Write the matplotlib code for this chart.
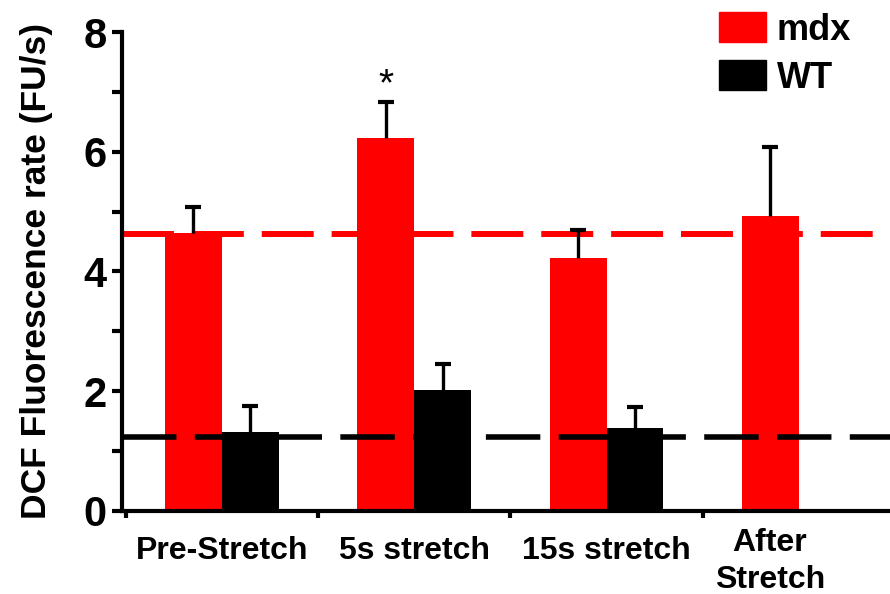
import matplotlib
matplotlib.use('Agg')
import matplotlib.pyplot as plt
from matplotlib.patches import Patch
import numpy as np

plt.rcParams['font.family'] = ['Liberation Sans', 'DejaVu Sans']

# data
groups = ['Pre-Stretch', '5s stretch', '15s stretch', 'After\nStretch']
mdx = [4.65, 6.23, 4.22, 4.92]
mdx_err = [0.43, 0.60, 0.48, 1.16]
wt = [1.31, 2.02, 1.38]
wt_err = [0.45, 0.43, 0.35]
mdx_base = 4.62
wt_base = 1.24

fig = plt.figure(figsize=(8.9, 5.94), dpi=100)
ax = fig.add_axes([0.137, 0.14, 0.863, 0.806])

w = 0.296
x = np.arange(len(groups))
ax.bar(x - w / 2, mdx, width=w, color='#ff0000', zorder=2)
ax.bar(x[:3] + w / 2, wt, width=w, color='black', zorder=2)

# upper error bars only
for xs, ys, es in [(x - w / 2, mdx, mdx_err), (x[:3] + w / 2, wt, wt_err)]:
    _, caps, _ = ax.errorbar(xs, ys, yerr=[np.zeros(len(ys)), es], fmt='none',
                             ecolor='black', elinewidth=2.4, capsize=5.8,
                             capthick=3, zorder=4)
    caps[0].set_visible(False)

ax.axhline(mdx_base, color='#ff0000', lw=4.3, dashes=(8.7, 3.0), zorder=3)
ax.axhline(wt_base, color='black', lw=4.0, dashes=(9.8, 3.3), zorder=3)

ax.text(1 - w / 2, mdx[1] + mdx_err[1] - 0.02, '*', ha='center', va='bottom',
        fontsize=28)

ax.set_xlim(-0.52, 3.474)
ax.set_ylim(0, 8)

ax.set_yticks([0, 2, 4, 6, 8])
ax.set_yticks([1, 3, 5, 7], minor=True)
ax.tick_params(axis='y', which='both', direction='out', length=7, width=3,
               labelsize=30, pad=4)
for lab in ax.get_yticklabels():
    lab.set_fontweight('bold')

ax.set_xticks([-0.5, 0.5, 1.5, 2.5])
ax.set_xticklabels([])
ax.tick_params(axis='x', direction='out', length=5, width=3)

label_x = [0, 1, 2, 2.85]
label_y = [-0.083, -0.083, -0.083, -0.105]
for lx, ly, g in zip(label_x, label_y, groups):
    ax.text(lx, ly, g, transform=ax.get_xaxis_transform(), ha='center',
            va='center', fontsize=23, fontweight='bold', linespacing=1.3)

ax.set_ylabel('DCF Fluorescence rate (FU/s)', fontsize=25.5, fontweight='bold',
              labelpad=22)

for s in ['top', 'right']:
    ax.spines[s].set_visible(False)
for s in ['left', 'bottom']:
    ax.spines[s].set_linewidth(3)
ax.spines['left'].set_zorder(5)

handles = [Patch(color='#ff0000', label='mdx'), Patch(color='black', label='WT')]
ax.legend(handles=handles, loc='upper right', bbox_to_anchor=(0.985, 1.022),
          bbox_transform=fig.transFigure, frameon=False,
          prop={'size': 26, 'weight': 'bold'}, handlelength=1.3,
          handleheight=0.9, handletextpad=0.3, labelspacing=0.35,
          borderpad=0.2)

fig.savefig('out.png', dpi=100)
